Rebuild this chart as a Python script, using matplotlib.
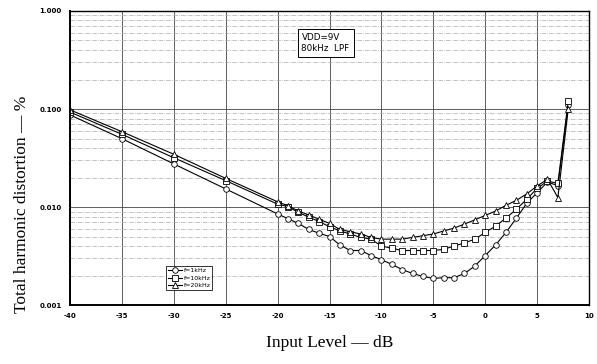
import numpy as np
import matplotlib
matplotlib.use("Agg")
from matplotlib import pyplot as plt

# input level, dB
level = [-40, -35, -30, -25, -20, -19, -18, -17, -16, -15, -14, -13, -12, -11, -10,
         -9, -8, -7, -6, -5, -4, -3, -2, -1, 0, 1, 2, 3, 4, 5, 6, 7, 8]

# THD, %
thd_1k = [0.087, 0.0498, 0.0275, 0.0153, 0.0085, 0.0076, 0.0068, 0.0059, 0.0054, 0.0050,
          0.0041, 0.0036, 0.0036, 0.0032, 0.0029, 0.0026, 0.0023, 0.0021, 0.00196, 0.00187,
          0.0019, 0.0019, 0.0021, 0.0025, 0.0032, 0.0041, 0.0055, 0.0077, 0.0109, 0.0140,
          0.0180, 0.0165, 0.110]
thd_10k = [0.093, 0.0552, 0.0318, 0.0186, 0.0107, 0.0101, 0.0088, 0.0079, 0.0071, 0.0063,
           0.0057, 0.0053, 0.0049, 0.0047, 0.0040, 0.0038, 0.0036, 0.0036, 0.0036, 0.0036,
           0.0037, 0.0040, 0.0043, 0.0047, 0.0055, 0.0064, 0.0077, 0.0095, 0.0120, 0.0155,
           0.0184, 0.0174, 0.120]
thd_20k = [0.098, 0.0587, 0.0345, 0.0196, 0.0113, 0.0103, 0.0091, 0.0083, 0.0075, 0.0068,
           0.0059, 0.0056, 0.0053, 0.0049, 0.0047, 0.0047, 0.0047, 0.0049, 0.0051, 0.0053,
           0.0057, 0.0061, 0.0067, 0.0074, 0.0082, 0.0091, 0.0104, 0.0117, 0.0136, 0.0164,
           0.0192, 0.0125, 0.100]

x_ticks = [-40, -35, -30, -25, -20, -15, -10, -5, 0, 5, 10]
y_ticks = [0.001, 0.01, 0.1, 1.0]
y_labels = ["0.001", "0.010", "0.100", "1.000"]

fig = plt.figure(figsize=(5.97, 3.64), dpi=100)
ax = fig.add_axes([0.1173, 0.162, 0.8693, 0.8078])

ax.set_yscale("log")
ax.set_xlim(-40, 10)
ax.set_ylim(0.001, 1.0)

ax.grid(True, which="major", color="#444444", lw=0.6)
ax.grid(True, which="minor", axis="y", color="#aaaaaa", lw=0.5, ls="-.")

kw = dict(color="black", lw=0.8, markersize=4, markerfacecolor="white",
          markeredgecolor="black", markeredgewidth=0.6)
ax.plot(level, thd_1k, marker="o", label="f=1kHz", **kw)
ax.plot(level, thd_10k, marker="s", label="f=10kHz", **kw)
ax.plot(level, thd_20k, marker="^", label="f=20kHz", **kw)

ax.set_xticks(x_ticks)
ax.set_xticklabels([str(t) for t in x_ticks])
ax.set_yticks(y_ticks)
ax.set_yticklabels(y_labels)
ax.yaxis.set_minor_formatter(matplotlib.ticker.NullFormatter())
ax.tick_params(which="both", length=0, labelsize=5, pad=6)
for lbl in ax.get_xticklabels() + ax.get_yticklabels():
    lbl.set_fontweight("bold")

for s in ax.spines.values():
    s.set_color("black")
    s.set_linewidth(1.0)
ax.spines["left"].set_linewidth(1.4)
ax.spines["bottom"].set_linewidth(1.4)

leg = ax.legend(loc="lower left", bbox_to_anchor=(0.185, 0.05), fontsize=4.5,
                handlelength=2.2, handletextpad=0.3, borderpad=0.3,
                labelspacing=0.35, frameon=True, fancybox=False,
                edgecolor="black", borderaxespad=0)
leg.get_frame().set_linewidth(0.7)

ax.text(0.446, 0.925, "VDD=9V\n80kHz  LPF", transform=ax.transAxes, fontsize=6.3,
        va="top", ha="left", linespacing=1.3,
        bbox=dict(boxstyle="square,pad=0.45", fc="white", ec="black", lw=0.7))

fig.text(0.037, 0.44, "Total harmonic distortion \u2014 %", rotation=90,
         ha="center", va="center", family="Liberation Serif", fontsize=12.5)
fig.text(0.553, 0.058, "Input Level \u2014 dB", ha="center", va="center",
         family="Liberation Serif", fontsize=12.5)

fig.savefig("out.png", dpi=100)
